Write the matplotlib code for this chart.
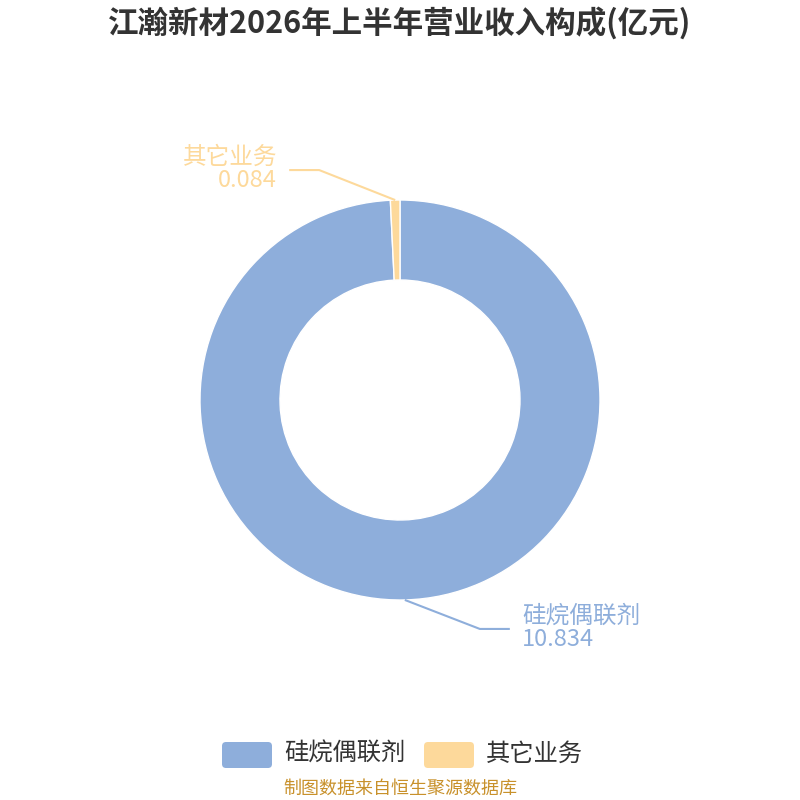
import numpy as np
import matplotlib
matplotlib.use("Agg")
import matplotlib.pyplot as plt
from matplotlib.patches import FancyBboxPatch

plt.rcParams["font.family"] = ["Noto Sans CJK SC", "DejaVu Sans"]

title = "江瀚新材2026年上半年营业收入构成(亿元)"
categories = ["硅烷偶联剂", "其它业务"]
values = [10.834, 0.084]
colors = ["#8eaedb", "#fdd99b"]
source = "制图数据来自恒生聚源数据库"

fig = plt.figure(figsize=(8, 8), dpi=100)
ax = fig.add_axes([0, 0, 1, 1])
# pixel-like coordinates, origin at figure centre, y up
ax.set_xlim(-400, 400)
ax.set_ylim(-400, 400)
ax.set_aspect("equal")
ax.axis("off")


def px(x, y):
    return x - 400, 400 - y


wedges, _ = ax.pie(values, colors=colors, radius=200, center=(0, 0),
                   startangle=90, counterclock=False,
                   wedgeprops=dict(width=80, edgecolor="white", linewidth=1))
ax.set_xlim(-400, 400)
ax.set_ylim(-400, 400)

for w, name, val, col in zip(wedges, categories, values, colors):
    mid = np.deg2rad((w.theta1 + w.theta2) / 2)
    x0, y0 = 200 * np.cos(mid), 200 * np.sin(mid)
    right = x0 > 0
    sign = 1 if right else -1
    if y0 < 0:
        yk = y0 - 29
    else:
        yk = y0 + 30
    xk = x0 + sign * (75 if right else 76)
    xe = xk + sign * 30
    ax.plot([x0, xk, xe], [y0, yk, yk], color=col, lw=1.5, solid_capstyle="butt")
    xt = xe + sign * 12
    ax.text(xt, yk + 1, f"{name}\n{val:.3f}", color=col, fontsize=17,
            ha="left" if right else "right", va="center",
            ma="left" if right else "right", linespacing=1.0)

tx, ty = px(400, 23)
ax.text(tx, ty, title, fontsize=22, fontweight="bold", color="#333333",
        ha="center", va="center")

# legend
lx = [222, 424]
for x, name, col in zip(lx, categories, colors):
    bx, by = px(x, 768)
    ax.add_patch(FancyBboxPatch((bx + 4, by + 4), 42, 18,
                                boxstyle="round,pad=4", fc=col, ec="none"))
    tx, ty = px(x + 62, 754)
    ax.text(tx, ty, name, fontsize=17.5, color="#333333", ha="left", va="center")

sx, sy = px(400, 789)
ax.text(sx, sy, source, fontsize=13, color="#c8912b", ha="center", va="center")

fig.savefig("out.png", dpi=100)
